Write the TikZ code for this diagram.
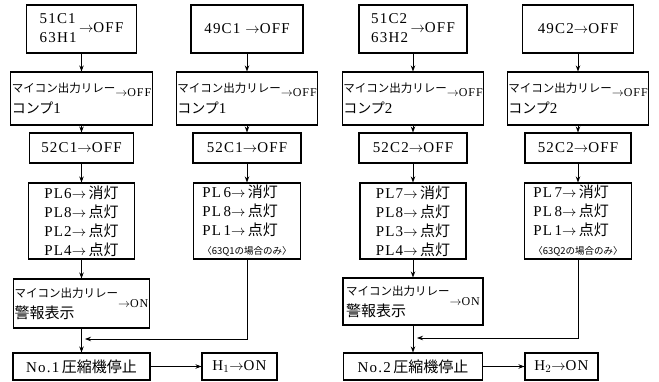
\documentclass[tikz,border=0pt]{standalone}
\usepackage{fontspec}
\setmainfont{Liberation Serif}[LetterSpace=8]
\newfontfamily\jp{Noto Sans CJK JP}
\usetikzlibrary{arrows.meta,positioning}
\newcommand{\ar}{$\rightarrow$}
\tikzset{
  box/.style={draw, line width=1.1pt, inner sep=1pt, align=center,
              font=\fontsize{15}{19}\selectfont},
  relay/.style={box, font=\fontsize{15}{21}\selectfont},
  plbox/.style={box, align=left},
  flow/.style={-{Stealth[length=6pt,width=4.5pt]}, line width=0.8pt},
}
\newcommand{\mycom}{{\jp\fontsize{11.5}{21}\selectfont マイコン出力リレー}}
\newcommand{\offtxt}{\raisebox{6pt}{\fontsize{12}{12}\selectfont\ar OFF}}
\newcommand{\ontxt}{{\fontsize{12}{12}\selectfont\ar ON}}
\begin{document}
\begin{tikzpicture}[x=1pt, y=-1pt]
  \useasboundingbox (0,0) rectangle (659,382);
  % compressor 1
  \node[box, minimum width=110pt, minimum height=48pt] (a1) at (81.5,29)
    {\begin{tabular}{@{}l@{}}51C1\\63H1\end{tabular}\,\ar OFF};
  \node[box, minimum width=112pt, minimum height=48pt] (b1) at (247,29) {49C1\ \ar OFF};
  \node[relay, minimum width=140pt, minimum height=53pt] (a2) at (81.5,98.5)
    {\begin{tabular}{@{}l@{}}\mycom\\{\jp\fontsize{14}{21}\selectfont コンプ}1\end{tabular}\offtxt};
  \node[relay, minimum width=140pt, minimum height=53pt] (b2) at (247,98.5)
    {\begin{tabular}{@{}l@{}}\mycom\\{\jp\fontsize{14}{21}\selectfont コンプ}1\end{tabular}\offtxt};
  \node[box, minimum width=104pt, minimum height=30pt] (a3) at (81.5,148) {52C1\ar OFF};
  \node[box, minimum width=108pt, minimum height=30pt] (b3) at (247,148) {52C1\ar OFF};
  \node[plbox, minimum width=106pt, minimum height=76pt] (a4) at (81.5,221)
    {PL6\ar\,{\jp 消灯}\\PL8\ar\,{\jp 点灯}\\PL2\ar\,{\jp 点灯}\\PL4\ar\,{\jp 点灯}};
  \node[plbox, minimum width=107pt, minimum height=76pt] (b4) at (247,221)
    {PL\,6\ar\,{\jp 消灯}\\PL\,8\ar\,{\jp 点灯}\\PL\,1\ar\,{\jp 点灯}\\{\jp\fontsize{9.5}{12}\selectfont 〈63Q1の場合のみ〉}};
  \node[relay, minimum width=135pt, minimum height=49pt] (a5) at (81.5,303.5)
    {\begin{tabular}{@{}l@{}}\mycom\\{\jp\fontsize{15}{21}\selectfont 警報表示}\end{tabular}\ontxt};
  \node[box, minimum width=137pt, minimum height=27pt] (a6) at (81.5,366.5)
    {No.1\,{\jp 圧縮機停止}};
  \node[box, minimum width=75pt, minimum height=27pt] (h1) at (239.5,366.5) {H$_1$\ar ON};
  \coordinate (j1) at (85,339);
  \draw[flow] (a1) -- (a2);
  \draw[flow] (a2) -- (a3);
  \draw[flow] (a3) -- (a4);
  \draw[flow] (a4) -- (a5);
  \draw[flow] (a5) -- (a6);
  \draw[flow] (b1) -- (b2);
  \draw[flow] (b2) -- (b3);
  \draw[flow] (b3) -- (b4);
  \draw[flow] (b4.south) |- (j1);
  \draw[flow] (a6) -- (h1);
  % compressor 2
  \node[box, minimum width=108pt, minimum height=48pt] (c1) at (413,29)
    {\begin{tabular}{@{}l@{}}51C2\\63H2\end{tabular}\,\ar OFF};
  \node[box, minimum width=111pt, minimum height=48pt] (d1) at (578,29) {49C2\ar OFF};
  \node[relay, minimum width=139pt, minimum height=53pt] (c2) at (413,98.5)
    {\begin{tabular}{@{}l@{}}\mycom\\{\jp\fontsize{14}{21}\selectfont コンプ}2\end{tabular}\offtxt};
  \node[relay, minimum width=140pt, minimum height=53pt] (d2) at (578,98.5)
    {\begin{tabular}{@{}l@{}}\mycom\\{\jp\fontsize{14}{21}\selectfont コンプ}2\end{tabular}\offtxt};
  \node[box, minimum width=108pt, minimum height=30pt] (c3) at (413,148) {52C2\ar OFF};
  \node[box, minimum width=106pt, minimum height=30pt] (d3) at (578,148) {52C2\ar OFF};
  \node[plbox, minimum width=106pt, minimum height=76pt] (c4) at (413,221)
    {PL7\ar\,{\jp 消灯}\\PL8\ar\,{\jp 点灯}\\PL3\ar\,{\jp 点灯}\\PL4\ar\,{\jp 点灯}};
  \node[plbox, minimum width=107pt, minimum height=76pt] (d4) at (578,221)
    {PL\,7\ar\,{\jp 消灯}\\PL\,8\ar\,{\jp 点灯}\\PL\,1\ar\,{\jp 点灯}\\{\jp\fontsize{9.5}{12}\selectfont 〈63Q2の場合のみ〉}};
  \node[relay, minimum width=140pt, minimum height=47pt] (c5) at (413,301.5)
    {\begin{tabular}{@{}l@{}}\mycom\\{\jp\fontsize{15}{21}\selectfont 警報表示}\end{tabular}\ontxt};
  \node[box, minimum width=139pt, minimum height=27pt] (c6) at (413,366.5)
    {No.2\,{\jp 圧縮機停止}};
  \node[box, minimum width=73pt, minimum height=27pt] (h2) at (561.5,366.5) {H$_2$\ar ON};
  \coordinate (j2) at (417,338);
  \draw[flow] (c1) -- (c2);
  \draw[flow] (c2) -- (c3);
  \draw[flow] (c3) -- (c4);
  \draw[flow] (c4) -- (c5);
  \draw[flow] (c5) -- (c6);
  \draw[flow] (d1) -- (d2);
  \draw[flow] (d2) -- (d3);
  \draw[flow] (d3) -- (d4);
  \draw[flow] (d4.south) |- (j2);
  \draw[flow] (c6) -- (h2);
\end{tikzpicture}
\end{document}
